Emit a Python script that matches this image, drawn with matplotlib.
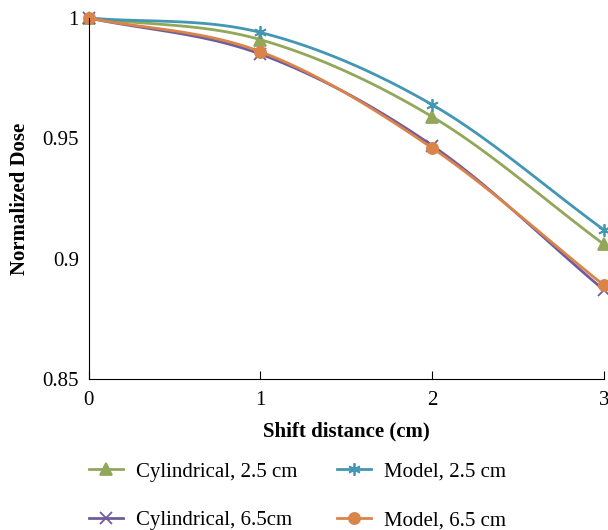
import numpy as np
import matplotlib.pyplot as plt
from matplotlib.lines import Line2D

shift = [0, 1, 2, 3]
cyl_25 = [1.0, 0.991, 0.959, 0.906]
model_25 = [1.0, 0.994, 0.964, 0.912]
cyl_65 = [1.0, 0.985, 0.947, 0.887]
model_65 = [1.0, 0.986, 0.946, 0.889]


def smooth(x, y, n=40):
    # Catmull-Rom style smoothing like Excel's "smoothed line"
    x = np.asarray(x, float)
    y = np.asarray(y, float)
    px = np.concatenate([[2 * x[0] - x[1]], x, [2 * x[-1] - x[-2]]])
    py = np.concatenate([[2 * y[0] - y[1]], y, [2 * y[-1] - y[-2]]])
    xs, ys = [], []
    t = np.linspace(0, 1, n)
    f = lambda a, b, c, d: 0.5 * (2 * b + (-a + c) * t + (2 * a - 5 * b + 4 * c - d) * t ** 2 + (-a + 3 * b - 3 * c + d) * t ** 3)
    for i in range(1, len(px) - 2):
        xs.append(f(px[i - 1], px[i], px[i + 1], px[i + 2]))
        ys.append(f(py[i - 1], py[i], py[i + 1], py[i + 2]))
    return np.concatenate(xs), np.concatenate(ys)


plt.rcParams['font.family'] = ['Liberation Serif', 'DejaVu Serif']
fig = plt.figure(figsize=(6.08, 5.30), dpi=100)
ax = fig.add_axes([0.146, 0.285, 0.847, 0.681])

series = {
    'cyl25': (cyl_25, '#93A75A', '^', 'Cylindrical, 2.5 cm', 8),
    'mod25': (model_25, '#4397B3', (6, 2, 0), 'Model, 2.5 cm', 9),
    'cyl65': (cyl_65, '#6E5D9C', 'x', 'Cylindrical, 6.5cm', 8),
    'mod65': (model_65, '#DB844A', 'o', 'Model, 6.5 cm', 8),
}
for key in ['cyl25', 'mod25', 'cyl65', 'mod65']:
    vals, col, mk, lab, ms = series[key]
    sx, sy = smooth(shift, vals)
    ax.plot(sx, sy, color=col, lw=2, clip_on=False)
    ax.plot(shift, vals, color=col, marker=mk, ms=ms, mew=1.3,
            linestyle='none', clip_on=False)

ax.set_xlim(0, 3)
ax.set_ylim(0.85, 1.0)
ax.set_xticks([0, 1, 2, 3])
ax.set_xticklabels(['0', '1', '2', '3'])
ax.set_yticks([0.85, 0.9, 0.95, 1.0])
ax.set_yticklabels(['0.85', '0.9', '0.95', '1'])
ax.spines['top'].set_visible(False)
ax.spines['right'].set_visible(False)
ax.tick_params(axis='x', direction='in', length=6, labelsize=15, pad=9)
ax.tick_params(axis='y', length=0, labelsize=15, pad=7)
ax.set_xlabel('Shift distance (cm)', fontsize=15, fontweight='bold', labelpad=8)
ax.set_ylabel('Normalized Dose', fontsize=15, fontweight='bold', labelpad=9)

# column-major fill: col 1 = cylindrical, col 2 = model
leg_h = []
for key in ['cyl25', 'cyl65', 'mod25', 'mod65']:
    vals, col, mk, lab, ms = series[key]
    leg_h.append(Line2D([], [], color=col, lw=2, marker=mk, ms=ms, mew=1.3, label=lab))
fig.legend(handles=leg_h, loc='lower left', bbox_to_anchor=(0.123, -0.028), ncol=2,
           frameon=False, fontsize=15, handlelength=1.6, columnspacing=1.9,
           labelspacing=1.4, handletextpad=0.65, borderaxespad=0.3)

fig.savefig('out.png', dpi=100)
